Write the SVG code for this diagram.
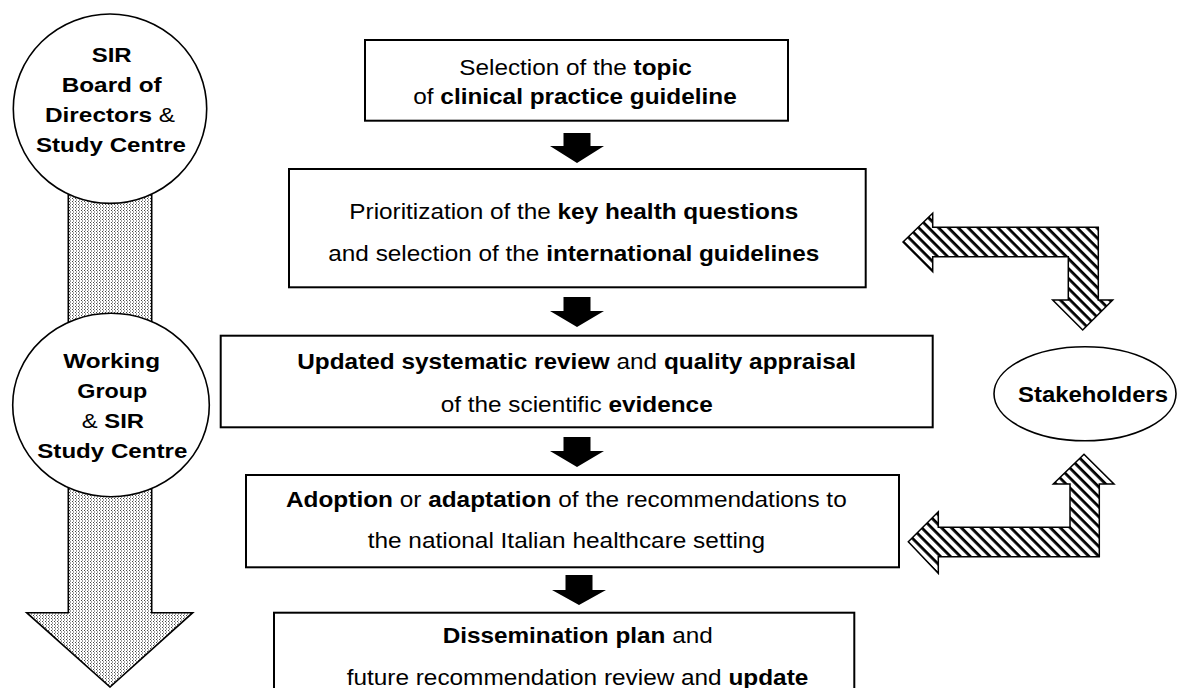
<svg xmlns="http://www.w3.org/2000/svg" width="1177" height="688" viewBox="0 0 1177 688">
<defs>
<pattern id="stip" width="3" height="3" patternUnits="userSpaceOnUse">
<rect width="3" height="3" fill="#fff"/>
<rect x="0" y="0" width="1" height="1" fill="#444"/>
<rect x="1" y="1.5" width="1" height="1" fill="#444"/>
</pattern>
<pattern id="hatch" width="7" height="7" patternUnits="userSpaceOnUse" patternTransform="rotate(45)">
<rect width="7" height="7" fill="#fff"/>
<rect x="0" y="0" width="7" height="2.8" fill="#000"/>
</pattern>
</defs>
<style>
text{font-family:"Liberation Sans",Arial,sans-serif;fill:#000}
.t{font-size:22px}
.c{font-size:21px;font-weight:bold}
.b{font-weight:bold}
.n{font-weight:normal}
.box{fill:#fff;stroke:#000;stroke-width:2}
.ov{fill:#fff;stroke:#000;stroke-width:1.6}
.blk{fill:#000}
.hat{fill:url(#hatch);stroke:#000;stroke-width:1.5}
.stp{fill:url(#stip);stroke:#000;stroke-width:1.6}
</style>
<rect width="1177" height="688" fill="#fff"/>

<g id="connectors">
<rect class="stp" x="68.3" y="180" width="83.4" height="150"/>
<path class="stp" d="M68.3,470 V612.7 H26.7 L110,687 L192.7,612.7 H151.7 V470 Z"/>
<path class="blk" d="M563.5,133 H590.5 V146 H604 L577,163 L550,146 H563.5 Z"/>
<path class="blk" d="M563.5,297 H590.5 V311 H604 L577,327 L550,311 H563.5 Z"/>
<path class="blk" d="M563.5,437 H590.5 V451 H604 L577,467 L550,451 H563.5 Z"/>
<path class="blk" d="M565.5,575 H592.5 V590 H606 L579,605 L552,590 H565.5 Z"/>
<path class="hat" d="M903,242 L932.7,213.3 V227.3 H1098.3 V300 H1112.7 L1082.7,330 L1052.7,300 H1068.3 V256.7 H932.7 V271.7 Z"/>
<path class="hat" d="M908.3,541.7 L938.3,511.7 V527.3 H1070 V484 H1053.3 L1084,454.3 L1114,484 H1099.3 V556.7 H938.3 V573.3 Z"/>
</g>

<g id="sir-board">
<ellipse class="ov" cx="110" cy="108.7" rx="96.7" ry="94.7"/>
<text class="c" x="91.7" y="61.7" textLength="40" lengthAdjust="spacingAndGlyphs">SIR</text>
<text class="c" x="61.7" y="91.7" textLength="100" lengthAdjust="spacingAndGlyphs">Board of</text>
<text class="c" x="45" y="121.7" textLength="130" lengthAdjust="spacingAndGlyphs">Directors <tspan class="n">&amp;</tspan></text>
<text class="c" x="36" y="151.7" textLength="150" lengthAdjust="spacingAndGlyphs">Study Centre</text>
</g>

<g id="working-group">
<ellipse class="ov" cx="111" cy="405" rx="98.3" ry="91.7"/>
<text class="c" x="63.3" y="368.3" textLength="96.7" lengthAdjust="spacingAndGlyphs">Working</text>
<text class="c" x="77.3" y="398.3" textLength="70" lengthAdjust="spacingAndGlyphs">Group</text>
<text class="c" x="81.7" y="428.3" textLength="62.3" lengthAdjust="spacingAndGlyphs"><tspan class="n">&amp;</tspan> SIR</text>
<text class="c" x="37.3" y="458.3" textLength="150" lengthAdjust="spacingAndGlyphs">Study Centre</text>
</g>

<g id="step1">
<rect class="box" x="365" y="40" width="423" height="80.7"/>
<text class="t" x="459.3" y="75" textLength="232.4" lengthAdjust="spacingAndGlyphs">Selection of the <tspan class="b">topic</tspan></text>
<text class="t" x="413.3" y="104" textLength="323.4" lengthAdjust="spacingAndGlyphs">of <tspan class="b">clinical practice guideline</tspan></text>
</g>

<g id="step2">
<rect class="box" x="289" y="169" width="576.7" height="118.3"/>
<text class="t" x="349.3" y="219.3" textLength="449" lengthAdjust="spacingAndGlyphs">Prioritization of the <tspan class="b">key health questions</tspan></text>
<text class="t" x="328.3" y="260.7" textLength="491" lengthAdjust="spacingAndGlyphs">and selection of the <tspan class="b">international guidelines</tspan></text>
</g>

<g id="step3">
<rect class="box" x="220.7" y="335.7" width="712" height="91.6"/>
<text class="t" x="297.3" y="369.3" textLength="558.7" lengthAdjust="spacingAndGlyphs"><tspan class="b">Updated systematic review</tspan> and <tspan class="b">quality appraisal</tspan></text>
<text class="t" x="440.7" y="411.7" textLength="272" lengthAdjust="spacingAndGlyphs">of the scientific <tspan class="b">evidence</tspan></text>
</g>

<g id="step4">
<rect class="box" x="246" y="475" width="653" height="92.3"/>
<text class="t" x="286" y="506.7" textLength="560.7" lengthAdjust="spacingAndGlyphs"><tspan class="b">Adoption</tspan> or <tspan class="b">adaptation</tspan> of the recommendations to</text>
<text class="t" x="367.7" y="548.3" textLength="397.3" lengthAdjust="spacingAndGlyphs">the national Italian healthcare setting</text>
</g>

<g id="step5">
<rect class="box" x="274" y="612.7" width="580.3" height="90"/>
<text class="t" x="442.7" y="643.3" textLength="270" lengthAdjust="spacingAndGlyphs"><tspan class="b">Dissemination plan</tspan> and</text>
<text class="t" x="346.7" y="685" textLength="461.6" lengthAdjust="spacingAndGlyphs">future recommendation review and <tspan class="b">update</tspan></text>
</g>

<g id="stakeholders">
<ellipse class="ov" cx="1085" cy="393.7" rx="91" ry="47"/>
<text class="t b" x="1018" y="402" textLength="150" lengthAdjust="spacingAndGlyphs">Stakeholders</text>
</g>
</svg>
